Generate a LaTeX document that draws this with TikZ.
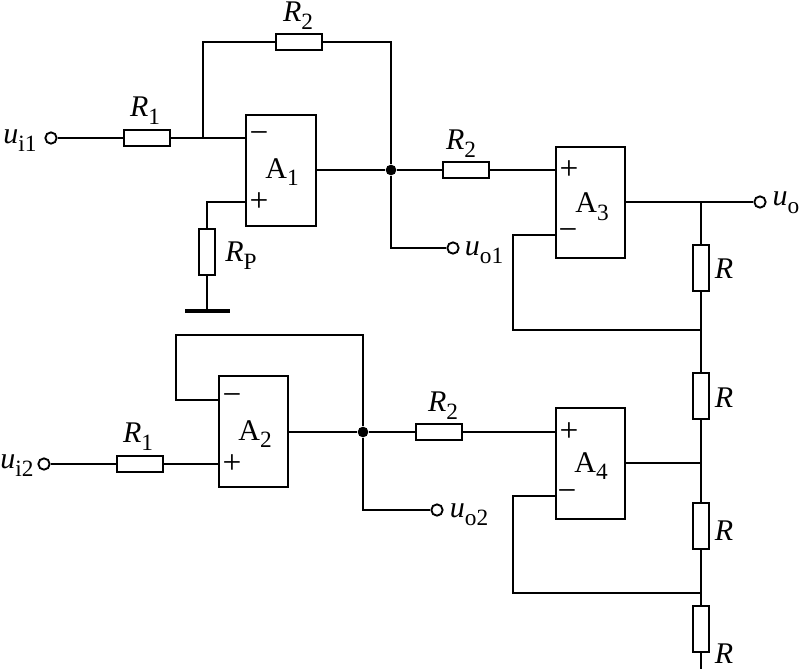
\documentclass[tikz,border=0pt]{standalone}
\usepackage{fontspec}
\setmainfont{Liberation Serif}
\usetikzlibrary{calc,positioning}
\newcommand{\lbl}[2]{\textit{#1}\raisebox{-.26em}{\fontsize{17.5}{17.5}\selectfont #2}}
\tikzset{
  wire/.style={line width=1.6pt},
  hres/.style={draw,line width=1.6pt,fill=white,rectangle,inner sep=0pt,minimum width=34.5pt,minimum height=11.5pt},
  vres/.style={draw,line width=1.6pt,fill=white,rectangle,inner sep=0pt,minimum width=11.5pt,minimum height=34.5pt},
  opamp/.style={draw,line width=1.6pt,fill=white,rectangle,inner sep=0pt,minimum width=52pt,minimum height=83pt},
  term/.style={draw,line width=1.4pt,fill=white,circle,inner sep=0pt,minimum size=8.5pt},
  jdot/.style={fill=black,circle,inner sep=0pt,minimum size=8pt},
  lab/.style={inner sep=0pt,font=\fontsize{22.5}{24}\selectfont},
  sgn/.style={inner sep=0pt,font=\fontsize{25}{26}\selectfont},
}
\begin{document}
\begin{tikzpicture}[x=.75pt, y=-.75pt]
    \useasboundingbox (0,0) rectangle (800,669);

    % op amps
    \node[opamp] (a1) at (281,170.5) {};
    \node[opamp] (a2) at (253.5,431.5) {};
    \node[opamp] (a3) at (590.5,202.5) {};
    \node[opamp] (a4) at (590.5,463.5) {};
    \node[lab] (a1t) at (282,172) {A\raisebox{-.26em}{\fontsize{17.5}{17.5}\selectfont 1}};
    \node[lab] (a2t) at (255,434) {A\raisebox{-.26em}{\fontsize{17.5}{17.5}\selectfont 2}};
    \node[lab] (a3t) at (592,207) {A\raisebox{-.26em}{\fontsize{17.5}{17.5}\selectfont 3}};
    \node[lab] (a4t) at (591,466) {A\raisebox{-.26em}{\fontsize{17.5}{17.5}\selectfont 4}};

    % resistors
    \node[hres] (r1a) at (147,138) {};
    \node[hres] (r2a) at (299,42) {};
    \node[hres] (r2b) at (466,170) {};
    \node[hres] (r1b) at (140,464) {};
    \node[hres] (r2c) at (439,432) {};
    \node[vres] (rp) at (207,252) {};
    \node[vres] (r3) at (701,268) {};
    \node[vres] (r4) at (701,396) {};
    \node[vres] (r5) at (701,526) {};
    \node[vres] (r6) at (701,629) {};

    % terminals
    \node[term] (ui1) at (51,138) {};
    \node[term] (ui2) at (44,464) {};
    \node[term] (uo1) at (453,248) {};
    \node[term] (uo2) at (437,510) {};
    \node[term] (uo) at (760,202) {};

    % junctions
    \node[jdot] (j1) at (391,170) {};
    \node[jdot] (j2) at (363,432) {};
    \coordinate (n1) at (203,138);
    \coordinate (n2) at (701,202);
    \coordinate (n3) at (701,330);
    \coordinate (n4) at (701,463);
    \coordinate (n5) at (701,593);
    \coordinate (gnd) at (207,311);
    \coordinate (gl) at (185,311);
    \coordinate (gr) at (230,311);
    \coordinate (bot) at (701,669);

    % A1
    \draw[wire] (ui1) -- (r1a);
    \draw[wire] (r1a) -- (n1) -- (a1.west |- n1);
    \draw[wire] (n1) |- (r2a);
    \draw[wire] (r2a) -| (j1);
    \draw[wire] (a1.east |- j1) -- (j1) -- (r2b);
    \draw[wire] (j1) |- (uo1);
    \draw[wire] (a1.west |- 0,202) -| (rp);
    \draw[wire] (rp) -- (gnd);
    \draw[line width=2.5pt] (gl) -- (gr);
    \draw[wire] (r2b) -- (a3.west |- r2b);
    % A3
    \draw[wire] (a3.east |- n2) -- (n2) -- (uo);
    \draw[wire] (n2) -- (r3) -- (n3) -- (r4) -- (n4) -- (r5) -- (n5) -- (r6) -- (bot);
    \draw[wire] (n3) -- (513,330) |- (a3.west |- 0,235);
    % A2
    \draw[wire] (a2.west |- 0,400) -- (176,400) |- (j2 |- 0,335) -- (j2);
    \draw[wire] (ui2) -- (r1b) -- (a2.west |- r1b);
    \draw[wire] (a2.east |- j2) -- (j2) -- (r2c) -- (a4.west |- r2c);
    \draw[wire] (j2) |- (uo2);
    % A4
    \draw[wire] (a4.east |- n4) -- (n4);
    \draw[wire] (n5) -- (513,593) |- (a4.west |- 0,496);

    % signs
    \node[sgn] (s1) at (259,138) {−};
    \node[sgn] (s2) at (259,202) {+};
    \node[sgn] (s3) at (232,400) {−};
    \node[sgn] (s4) at (232,464) {+};
    \node[sgn] (s5) at (569,170) {+};
    \node[sgn] (s6) at (568,235) {−};
    \node[sgn] (s7) at (569,432) {+};
    \node[sgn] (s8) at (567,496) {−};

    % labels
    \node[lab] (l1) at (145,111) {\lbl{R}{1}};
    \node[lab] (l2) at (298,16) {\lbl{R}{2}};
    \node[lab] (l3) at (461,144) {\lbl{R}{2}};
    \node[lab] (l4) at (138,437) {\lbl{R}{1}};
    \node[lab] (l5) at (443,406) {\lbl{R}{2}};
    \node[lab] (l6) at (241,256) {\lbl{R}{P}};
    \node[lab] (l7) at (20,141) {\lbl{u}{i1}};
    \node[lab] (l8) at (17,466) {\lbl{u}{i2}};
    \node[lab] (l9) at (484,253) {\lbl{u}{o1}};
    \node[lab] (l10) at (469,515) {\lbl{u}{o2}};
    \node[lab] (l11) at (786,203) {\lbl{u}{o}};
    \node[lab] (l12) at (724,269) {\textit{R}};
    \node[lab] (l13) at (724,398) {\textit{R}};
    \node[lab] (l14) at (724,531) {\textit{R}};
    \node[lab] (l15) at (724,654) {\textit{R}};
\end{tikzpicture}
\end{document}
